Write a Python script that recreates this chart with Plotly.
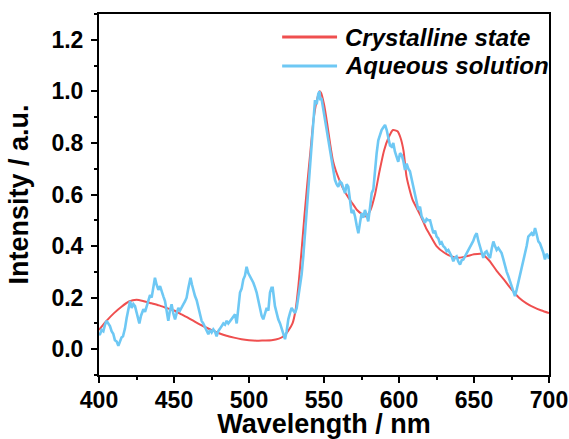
import plotly.graph_objects as go

# Crystalline state (red, smooth)
red_wl = [400, 405, 410, 415, 420, 425, 430, 435, 440, 445, 450, 455, 460, 465, 470, 475,
          480, 485, 490, 495, 500, 505, 510, 515, 520, 523, 526, 529, 531, 533, 535, 537,
          539, 541, 543, 545, 547, 548, 550, 552, 554, 556, 558, 560, 563, 566, 569, 572,
          575, 578, 581, 584, 587, 590, 593, 596, 599, 601, 603, 605, 607, 609, 612, 615,
          618, 620, 625, 630, 635, 640, 645, 650, 655, 660, 665, 670, 675, 680, 685, 690,
          695, 700]
red_int = [0.075, 0.11, 0.14, 0.165, 0.185, 0.192, 0.186, 0.178, 0.17, 0.16, 0.15, 0.135,
           0.12, 0.103, 0.088, 0.074, 0.062, 0.052, 0.045, 0.039, 0.035, 0.033, 0.034, 0.035,
           0.041, 0.05, 0.07, 0.1, 0.15, 0.25, 0.38, 0.52, 0.65, 0.77, 0.89, 0.96, 1.0, 0.995,
           0.95, 0.88, 0.8, 0.73, 0.69, 0.66, 0.62, 0.59, 0.565, 0.54, 0.525, 0.515, 0.54,
           0.6, 0.69, 0.77, 0.82, 0.85, 0.845, 0.82, 0.77, 0.67, 0.62, 0.58, 0.545, 0.51,
           0.47, 0.45, 0.4, 0.375, 0.36, 0.355, 0.36, 0.368, 0.37, 0.345, 0.305, 0.27, 0.232,
           0.2, 0.178, 0.162, 0.15, 0.14]

# Aqueous solution (blue, noisy)
blue_wl = [400.0, 400.7, 401.8, 402.9, 404.0, 405.0, 406.2, 407.3, 408.4, 409.5, 410.6, 411.8,
           412.9, 414.0, 415.0, 416.0, 417.3, 418.4, 419.5, 420.7, 421.8, 422.9, 424.0, 425.1,
           426.2, 426.9, 428.0, 429.6, 430.7, 431.8, 432.9, 434.0, 435.1, 436.2, 437.3, 438.4,
           439.6, 440.7, 441.8, 442.9, 444.0, 445.1, 446.2, 447.3, 448.4, 449.5, 450.7, 451.8,
           452.9, 454.0, 455.1, 456.2, 457.3, 458.4, 459.5, 461.0, 462.0, 463.0, 464.0, 465.1,
           466.2, 467.3, 468.4, 469.5, 470.7, 471.8, 472.9, 474.0, 475.1, 476.2, 477.3, 478.4,
           479.5, 480.7, 481.8, 482.9, 484.0, 485.1, 486.2, 487.3, 488.4, 489.5, 490.7, 491.8,
           492.9, 494.0, 495.1, 496.2, 497.3, 498.4, 499.5, 500.7, 501.8, 502.9, 504.0, 505.1,
           506.2, 507.3, 508.4, 509.5, 510.6, 511.8, 512.9, 514.0, 515.0, 515.8, 517.3, 518.4,
           519.5, 520.7, 521.8, 522.9, 524.0, 525.1, 526.2, 527.3, 528.4, 529.5, 530.7, 531.8,
           532.9, 534.0, 535.1, 536.2, 537.3, 538.4, 539.5, 540.7, 541.8, 542.9, 544.0, 545.1,
           546.2, 547.0, 547.5, 548.4, 549.5, 550.7, 551.8, 552.9, 554.0, 555.1, 556.2, 557.3,
           558.4, 559.5, 560.7, 561.8, 562.9, 564.0, 565.1, 566.2, 567.3, 568.4, 569.5, 570.7,
           571.8, 572.9, 574.0, 575.1, 576.2, 577.3, 578.4, 579.5, 580.7, 581.8, 582.9, 584.0,
           585.1, 586.2, 587.3, 588.4, 589.5, 590.7, 591.8, 592.9, 594.0, 595.1, 596.2, 597.3,
           598.4, 599.5, 600.7, 601.8, 602.9, 604.0, 605.1, 606.2, 607.3, 608.4, 609.5, 610.7,
           611.8, 612.9, 614.0, 615.1, 616.2, 617.3, 618.4, 619.5, 620.7, 621.8, 622.9, 624.0,
           625.1, 626.2, 627.3, 628.4, 629.5, 630.7, 631.8, 632.9, 634.0, 635.1, 636.2, 637.3,
           638.4, 639.5, 640.7, 641.8, 642.9, 644.0, 645.1, 646.2, 647.3, 648.4, 649.5, 650.7,
           651.8, 652.9, 654.0, 655.1, 656.2, 657.3, 658.4, 659.5, 660.7, 661.8, 662.9, 664.0,
           665.1, 666.2, 667.3, 668.4, 669.5, 670.7, 671.8, 672.9, 674.0, 675.1, 676.2, 677.3,
           678.4, 679.5, 680.7, 681.8, 682.9, 684.0, 685.1, 686.2, 687.3, 688.4, 689.5, 690.7,
           691.8, 692.9, 694.0, 695.1, 696.2, 697.3, 698.4, 699.5, 700.0]
blue_int = [0.055, 0.058, 0.075, 0.070, 0.095, 0.110, 0.100, 0.090, 0.070, 0.060, 0.035, 0.030,
            0.013, 0.030, 0.045, 0.050, 0.080, 0.120, 0.150, 0.187, 0.160, 0.175, 0.167, 0.140,
            0.115, 0.100, 0.130, 0.155, 0.145, 0.170, 0.187, 0.210, 0.200, 0.245, 0.277, 0.250,
            0.230, 0.245, 0.220, 0.205, 0.187, 0.150, 0.110, 0.150, 0.174, 0.140, 0.116, 0.140,
            0.160, 0.150, 0.165, 0.174, 0.185, 0.200, 0.235, 0.277, 0.250, 0.225, 0.206, 0.190,
            0.160, 0.140, 0.110, 0.100, 0.084, 0.070, 0.058, 0.075, 0.065, 0.077, 0.068, 0.050,
            0.070, 0.080, 0.090, 0.100, 0.095, 0.110, 0.100, 0.108, 0.116, 0.125, 0.135, 0.100,
            0.150, 0.220, 0.235, 0.270, 0.285, 0.320, 0.295, 0.283, 0.270, 0.258, 0.240, 0.220,
            0.190, 0.160, 0.130, 0.116, 0.140, 0.160, 0.150, 0.220, 0.238, 0.238, 0.167, 0.140,
            0.116, 0.100, 0.077, 0.060, 0.039, 0.070, 0.116, 0.140, 0.160, 0.150, 0.140, 0.160,
            0.206, 0.240, 0.290, 0.360, 0.450, 0.528, 0.610, 0.700, 0.785, 0.880, 0.966, 0.950,
            0.990, 1.000, 0.970, 0.970, 0.930, 0.888, 0.850, 0.800, 0.760, 0.720, 0.690, 0.657,
            0.640, 0.630, 0.650, 0.644, 0.625, 0.605, 0.640, 0.630, 0.580, 0.528, 0.540, 0.515,
            0.480, 0.450, 0.490, 0.528, 0.510, 0.540, 0.520, 0.496, 0.550, 0.605, 0.620, 0.708,
            0.760, 0.810, 0.830, 0.850, 0.860, 0.870, 0.850, 0.824, 0.790, 0.785, 0.800, 0.766,
            0.750, 0.727, 0.760, 0.753, 0.730, 0.695, 0.720, 0.700, 0.690, 0.657, 0.630, 0.592,
            0.570, 0.540, 0.553, 0.515, 0.500, 0.490, 0.505, 0.500, 0.500, 0.470, 0.450, 0.460,
            0.437, 0.430, 0.410, 0.415, 0.400, 0.393, 0.380, 0.385, 0.373, 0.360, 0.341, 0.355,
            0.360, 0.340, 0.328, 0.345, 0.348, 0.360, 0.373, 0.380, 0.395, 0.410, 0.420, 0.440,
            0.450, 0.420, 0.399, 0.370, 0.354, 0.375, 0.380, 0.365, 0.354, 0.390, 0.418, 0.400,
            0.385, 0.393, 0.380, 0.373, 0.350, 0.322, 0.300, 0.283, 0.265, 0.245, 0.225, 0.206,
            0.230, 0.258, 0.285, 0.309, 0.340, 0.373, 0.400, 0.437, 0.445, 0.450, 0.440, 0.470,
            0.445, 0.418, 0.410, 0.393, 0.375, 0.348, 0.370, 0.360, 0.350]

x_ticks = [400, 450, 500, 550, 600, 650, 700]
y_ticks = [0.0, 0.2, 0.4, 0.6, 0.8, 1.0, 1.2]

series_names = ["Crystalline state", "Aqueous solution"]
series_colors = ["#EF4F4F", "#6EC8F4"]

FONT = "Liberation Sans, Arial, sans-serif"

fig = go.Figure()
fig.add_trace(go.Scatter(x=red_wl, y=red_int, mode="lines", name=series_names[0],
                         showlegend=False,
                         line=dict(color=series_colors[0], width=2, shape="spline", smoothing=0.6)))
fig.add_trace(go.Scatter(x=blue_wl, y=blue_int, mode="lines", name=series_names[1],
                         showlegend=False,
                         line=dict(color=series_colors[1], width=2.6)))

axis_common = dict(showline=True, linecolor="black", linewidth=2, mirror=True,
                   ticks="outside", tickwidth=2, tickcolor="black", ticklen=6,
                   showgrid=False, zeroline=False, automargin=False,
                   tickfont=dict(family=FONT, size=23, color="black", weight="bold"))

fig.update_xaxes(range=[400, 700], tickvals=x_ticks, ticktext=[str(v) for v in x_ticks],
                 minor=dict(ticks="outside", dtick=25, tick0=400, ticklen=3, tickwidth=2,
                            tickcolor="black", showgrid=False),
                 ticklabelstandoff=-3,
                 title=dict(text="Wavelength / nm", standoff=11,
                            font=dict(family=FONT, size=27, color="black", weight="bold")),
                 **axis_common)
fig.update_yaxes(range=[-0.1, 1.3], tickvals=y_ticks, ticktext=[f"{v:.1f}" for v in y_ticks],
                 minor=dict(ticks="outside", dtick=0.1, tick0=0, ticklen=3, tickwidth=2,
                            tickcolor="black", showgrid=False),
                 ticklabelstandoff=3,
                 title=dict(text="Intensity / a.u.", standoff=15,
                            font=dict(family=FONT, size=27, color="black", weight="bold")),
                 **axis_common)

# Hand-built legend (line sample + label), positioned in paper coordinates
legend_rows_y = [0.936, 0.856]
for name, color, yy in zip(series_names, series_colors, legend_rows_y):
    fig.add_shape(type="line", xref="paper", yref="paper", x0=0.407, x1=0.529, y0=yy, y1=yy,
                  line=dict(color=color, width=3))
    fig.add_annotation(xref="paper", yref="paper", x=0.543, y=yy, xanchor="left",
                       yanchor="middle", text=name, showarrow=False,
                       font=dict(family=FONT, size=24, color="black", weight="bold",
                                 style="italic"))

fig.update_layout(
    width=569, height=439,
    margin=dict(l=99, r=20, t=14, b=64),
    plot_bgcolor="white", paper_bgcolor="white",
    showlegend=False,
)

fig.write_html("out.html",
               config={"displayModeBar": False},
               post_script="document.body.style.margin='0';"
                           "document.body.style.overflow='hidden';")
